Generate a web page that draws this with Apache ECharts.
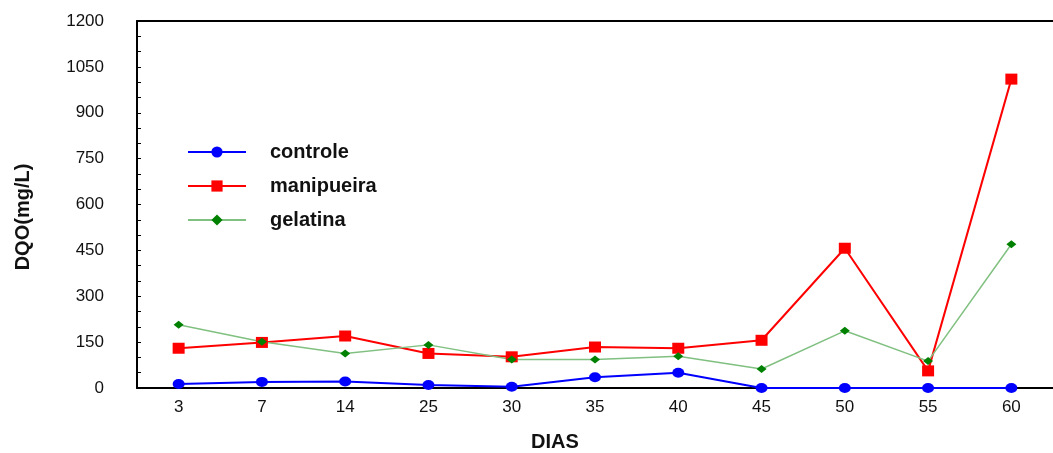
<!DOCTYPE html>
<html><head><meta charset="utf-8">
<script src="https://cdn.jsdelivr.net/npm/echarts@6/dist/echarts.min.js"></script>
<style>html,body{margin:0;padding:0;background:#fff}#c{width:1053px;height:453px}</style>
</head><body><div id="c"></div>
<script>
const categories = ['3','7','14','25','30','35','40','45','50','55','60'];
const controle   = [13, 20, 21, 10, 4, 35, 50, 0, 0, 0, 0];
const manipueira = [130, 149, 170, 113, 102, 134, 130, 156, 457, 56, 1010];
const gelatina   = [207, 151, 113, 141, 93, 93, 104, 62, 187, 88, 470];
const yTicks = [0, 150, 300, 450, 600, 750, 900, 1050, 1200];

const FONT = '"Liberation Sans", Arial, sans-serif';
const chart = echarts.init(document.getElementById('c'));
chart.setOption({
  animation: false,
  backgroundColor: '#fff',
  grid: { left: 137, top: 21, bottom: 65, right: -12, containLabel: false },
  legend: {
    orient: 'vertical', left: 187, top: 142, padding: 0,
    itemWidth: 58, itemHeight: 14, itemGap: 14,
    textStyle: { fontFamily: FONT, fontSize: 20, fontWeight: 'bold', color: '#111', padding: [0,0,0,19] },
    data: ['controle', 'manipueira', 'gelatina']
  },
  xAxis: [{
    type: 'category', data: categories, boundaryGap: true, position: 'bottom',
    axisLine: { lineStyle: { color: '#000', width: 2 } },
    axisTick: { inside: true, alignWithLabel: true, length: 4, lineStyle: { color: '#000' } },
    axisLabel: { fontFamily: FONT, fontSize: 17, color: '#111', margin: 11 },
    splitLine: { show: false }
  }, {
    type: 'category', data: categories, boundaryGap: true, position: 'top',
    axisLine: { lineStyle: { color: '#000', width: 2 } },
    axisTick: { inside: true, alignWithLabel: true, length: 4, lineStyle: { color: '#000' } },
    axisLabel: { show: false }
  }],
  yAxis: {
    type: 'value', min: yTicks[0], max: yTicks[yTicks.length-1], interval: 150,
    axisLine: { show: true, lineStyle: { color: '#000', width: 2 } },
    axisTick: { show: true, inside: true, length: 4, lineStyle: { color: '#000' } },
    minorTick: { show: true, splitNumber: 3, length: 4, lineStyle: { color: '#000' } },
    axisLabel: { fontFamily: FONT, fontSize: 17, color: '#111', margin: 33, formatter: v => String(v) },
    splitLine: { show: false }
  },
  graphic: [
    { type: 'text', x: 23, y: 217, rotation: Math.PI/2,
      style: { text: 'DQO(mg/L)', font: 'bold 20px ' + FONT, fill: '#111', align: 'center', verticalAlign: 'middle' } },
    { type: 'text', x: 555, y: 442,
      style: { text: 'DIAS', font: 'bold 20px ' + FONT, fill: '#111', align: 'center', verticalAlign: 'middle' } }
  ],
  series: [
    { name: 'controle', type: 'line', data: controle, symbol: 'circle', symbolSize: [12, 10],
      itemStyle: { color: '#0000ff' }, lineStyle: { color: '#0000ff', width: 2 } },
    { name: 'manipueira', type: 'line', data: manipueira, symbol: 'rect', symbolSize: [12, 11],
      itemStyle: { color: '#ff0000' }, lineStyle: { color: '#ff0000', width: 2 } },
    { name: 'gelatina', type: 'line', data: gelatina, symbol: 'diamond', symbolSize: [10, 8],
      itemStyle: { color: '#008000' }, lineStyle: { color: '#80c080', width: 1.5 } }
  ]
});
</script></body></html>
